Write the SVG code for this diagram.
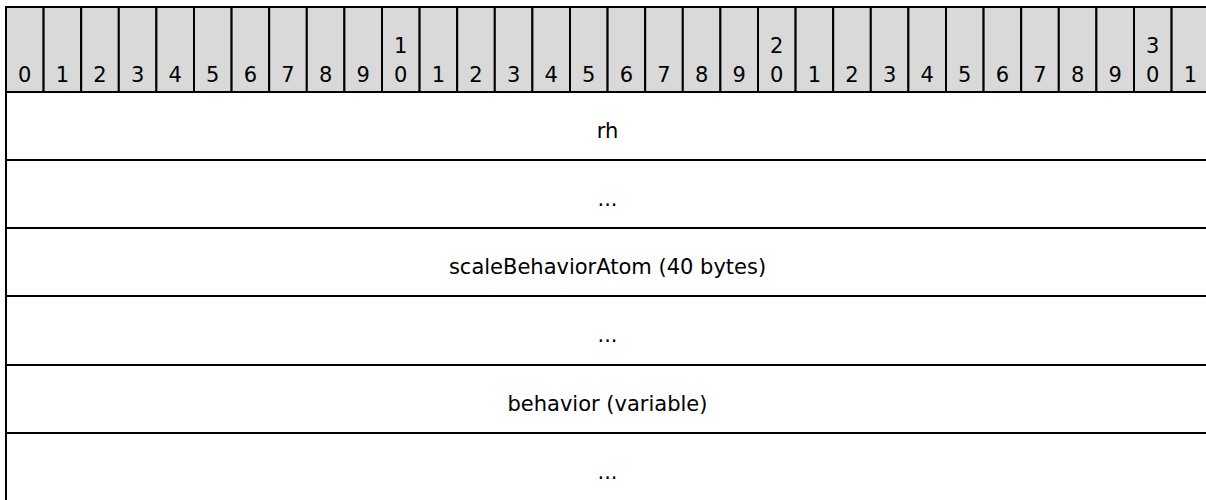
<svg xmlns="http://www.w3.org/2000/svg" width="1206" height="500" viewBox="0 0 1206 500">
<style>
.hdr{fill:#d9d9d9;stroke:#000;stroke-width:2}
.cell{fill:#fff;stroke:#000;stroke-width:2}
text{font-family:"DejaVu Sans",Verdana,sans-serif;font-size:21px;fill:#000;text-anchor:middle}
</style>
<rect x="0" y="0" width="1206" height="500" fill="#fff"/>
<g id="header">
<rect class="hdr" x="6" y="7" width="37.6" height="85"/>
<rect class="hdr" x="43.6" y="7" width="37.6" height="85"/>
<rect class="hdr" x="81.2" y="7" width="37.6" height="85"/>
<rect class="hdr" x="118.8" y="7" width="37.6" height="85"/>
<rect class="hdr" x="156.4" y="7" width="37.6" height="85"/>
<rect class="hdr" x="194" y="7" width="37.6" height="85"/>
<rect class="hdr" x="231.6" y="7" width="37.6" height="85"/>
<rect class="hdr" x="269.2" y="7" width="37.6" height="85"/>
<rect class="hdr" x="306.8" y="7" width="37.6" height="85"/>
<rect class="hdr" x="344.4" y="7" width="37.6" height="85"/>
<rect class="hdr" x="382" y="7" width="37.6" height="85"/>
<rect class="hdr" x="419.6" y="7" width="37.6" height="85"/>
<rect class="hdr" x="457.2" y="7" width="37.6" height="85"/>
<rect class="hdr" x="494.8" y="7" width="37.6" height="85"/>
<rect class="hdr" x="532.4" y="7" width="37.6" height="85"/>
<rect class="hdr" x="570" y="7" width="37.6" height="85"/>
<rect class="hdr" x="607.6" y="7" width="37.6" height="85"/>
<rect class="hdr" x="645.2" y="7" width="37.6" height="85"/>
<rect class="hdr" x="682.8" y="7" width="37.6" height="85"/>
<rect class="hdr" x="720.4" y="7" width="37.6" height="85"/>
<rect class="hdr" x="758" y="7" width="37.6" height="85"/>
<rect class="hdr" x="795.6" y="7" width="37.6" height="85"/>
<rect class="hdr" x="833.2" y="7" width="37.6" height="85"/>
<rect class="hdr" x="870.8" y="7" width="37.6" height="85"/>
<rect class="hdr" x="908.4" y="7" width="37.6" height="85"/>
<rect class="hdr" x="946" y="7" width="37.6" height="85"/>
<rect class="hdr" x="983.6" y="7" width="37.6" height="85"/>
<rect class="hdr" x="1021.2" y="7" width="37.6" height="85"/>
<rect class="hdr" x="1058.8" y="7" width="37.6" height="85"/>
<rect class="hdr" x="1096.4" y="7" width="37.6" height="85"/>
<rect class="hdr" x="1134" y="7" width="37.6" height="85"/>
<rect class="hdr" x="1171.6" y="7" width="37.6" height="85"/>
<text x="24.8" y="82">0</text>
<text x="62.4" y="82">1</text>
<text x="100" y="82">2</text>
<text x="137.6" y="82">3</text>
<text x="175.2" y="82">4</text>
<text x="212.8" y="82">5</text>
<text x="250.4" y="82">6</text>
<text x="288" y="82">7</text>
<text x="325.6" y="82">8</text>
<text x="363.2" y="82">9</text>
<text x="400.8" y="53">1</text><text x="400.8" y="82">0</text>
<text x="438.4" y="82">1</text>
<text x="476" y="82">2</text>
<text x="513.6" y="82">3</text>
<text x="551.2" y="82">4</text>
<text x="588.8" y="82">5</text>
<text x="626.4" y="82">6</text>
<text x="664" y="82">7</text>
<text x="701.6" y="82">8</text>
<text x="739.2" y="82">9</text>
<text x="776.8" y="53">2</text><text x="776.8" y="82">0</text>
<text x="814.4" y="82">1</text>
<text x="852" y="82">2</text>
<text x="889.6" y="82">3</text>
<text x="927.2" y="82">4</text>
<text x="964.8" y="82">5</text>
<text x="1002.4" y="82">6</text>
<text x="1040" y="82">7</text>
<text x="1077.6" y="82">8</text>
<text x="1115.2" y="82">9</text>
<text x="1152.8" y="53">3</text><text x="1152.8" y="82">0</text>
<text x="1190.4" y="82">1</text>
</g>
<g id="row-rh">
<rect class="cell" x="6" y="92" width="1203" height="68"/>
<text x="607.5" y="138">rh</text>
</g>
<g id="row-more1">
<rect class="cell" x="6" y="160" width="1203" height="68"/>
<text x="607.5" y="206">...</text>
</g>
<g id="row-scaleBehaviorAtom">
<rect class="cell" x="6" y="228" width="1203" height="68"/>
<text x="607.5" y="274">scaleBehaviorAtom (40 bytes)</text>
</g>
<g id="row-more2">
<rect class="cell" x="6" y="296" width="1203" height="69"/>
<text x="607.5" y="342">...</text>
</g>
<g id="row-behavior">
<rect class="cell" x="6" y="365" width="1203" height="68"/>
<text x="607.5" y="411">behavior (variable)</text>
</g>
<g id="row-more3">
<rect class="cell" x="6" y="433" width="1203" height="68"/>
<text x="607.5" y="479">...</text>
</g>
<g id="connectors"></g>
</svg>
